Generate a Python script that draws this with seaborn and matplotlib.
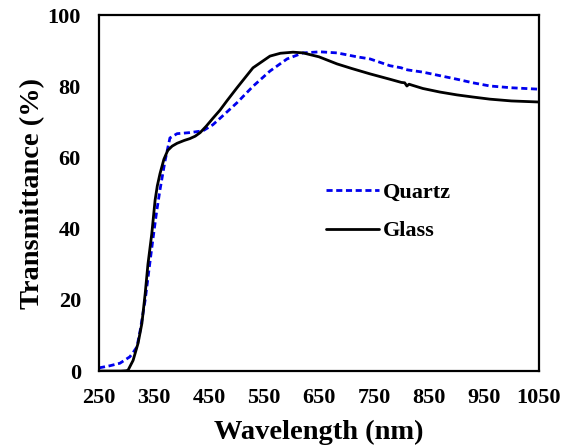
import matplotlib
matplotlib.use("Agg")
import matplotlib.pyplot as plt
import seaborn as sns
import pandas as pd

# Quartz (blue dashed)
quartz_wl = [250, 270, 288, 306, 312, 319, 325, 334, 343, 348, 355, 361, 370, 379, 392, 415, 439, 457,
             470, 501, 530, 561, 592, 621, 652, 683, 719, 743, 779, 800, 806, 812, 839, 870, 901,
             930, 961, 1000, 1050]
quartz_t = [0.9, 1.5, 2.2, 4.0, 5.2, 6.8, 11.5, 20, 31, 37, 45, 51, 59, 65.5, 66.7, 67, 67.5, 69.2,
            71, 75.4, 80, 84.3, 87.7, 89.4, 89.7, 89.4, 88.3, 87.7, 85.8, 85.2, 84.8, 84.6, 84, 83, 82,
            81, 80.1, 79.6, 79.2]

# Glass (black solid)
glass_wl = [250, 290, 300, 303, 312, 321, 328, 334, 339, 346, 352, 356, 361, 368, 375, 383, 392,
            405, 415, 425, 434, 445, 457, 470, 483, 501, 530, 561, 580, 603, 621, 650, 683, 710, 743,
            779, 800, 806, 810, 814, 820, 839, 870, 901, 930, 961, 1000, 1050]
glass_t = [0, 0, 0.1, 0.3, 3, 7.8, 13.4, 21.8, 30, 38.6, 48, 52, 55.5, 59.5, 62, 63.2, 64,
           64.8, 65.3, 66, 67, 68.8, 71, 73.3, 76, 79.6, 85.2, 88.5, 89.3, 89.6, 89.4, 88.3, 86.3, 85.0,
           83.5, 82, 81.1, 81, 80.1, 80.6, 80.3, 79.4, 78.4, 77.6, 77, 76.4, 75.9, 75.6]

x_ticks = [250, 350, 450, 550, 650, 750, 850, 950, 1050]
y_ticks = [0, 10, 20, 30, 40, 50, 60, 70, 80, 90, 100]
y_labels = ["0", "", "20", "", "40", "", "60", "", "80", "", "100"]

sns.set_style("white")
plt.rcParams['font.family'] = ['Liberation Serif', 'DejaVu Serif']
plt.rcParams['font.weight'] = 'bold'
for k in ['text.color', 'axes.labelcolor', 'xtick.color', 'ytick.color', 'axes.edgecolor']:
    plt.rcParams[k] = 'black'

fig = plt.figure(figsize=(5.69, 4.46), dpi=100)
ax = fig.add_axes([0.174, 0.168, 0.773, 0.798])

dq = pd.DataFrame({"wl": quartz_wl, "T": quartz_t})
dg = pd.DataFrame({"wl": glass_wl, "T": glass_t})
sns.lineplot(data=dq, x="wl", y="T", ax=ax, color="#0000ee", linestyle=(0, (2.2, 1.3)), lw=2.0,
             label="Quartz", sort=False)
sns.lineplot(data=dg, x="wl", y="T", ax=ax, color="black", lw=2.0, label="Glass", sort=False)

ax.set_xlim(250, 1050)
ax.set_ylim(0, 100)
ax.set_xticks(x_ticks)
ax.set_xticklabels([str(v) for v in x_ticks], fontsize=16, fontweight='bold')
ax.set_yticks(y_ticks)
ax.set_yticklabels(y_labels, fontsize=16, fontweight='bold')
ax.tick_params(axis='x', direction='in', length=5, width=1.5, pad=12)
ax.tick_params(axis='y', direction='in', length=5, width=1.5, pad=13)
for s in ax.spines.values():
    s.set_linewidth(1.6)
    s.set_color('black')
ax.set_xlabel("Wavelength (nm)", fontsize=20.5, fontweight='bold', labelpad=9)
ax.set_ylabel("Transmittance (%)", fontsize=20.5, fontweight='bold', labelpad=2)

leg = ax.legend(loc='center left', bbox_to_anchor=(0.47, 0.447), frameon=False,
                prop={'family': 'Liberation Serif', 'weight': 'bold', 'size': 16},
                handlelength=2.4, handletextpad=0.15, labelspacing=0.8)

fig.savefig("out.png", dpi=100)
